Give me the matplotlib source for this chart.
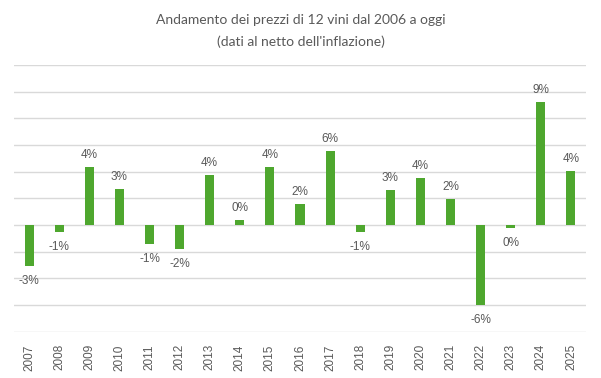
import matplotlib
matplotlib.use('Agg')
import matplotlib.pyplot as plt

# values (percent, net of inflation)
years = ["2007", "2008", "2009", "2010", "2011", "2012", "2013", "2014", "2015", "2016",
         "2017", "2018", "2019", "2020", "2021", "2022", "2023", "2024", "2025"]
values = [-3.05, -0.55, 4.34, 2.7, -1.45, -1.8, 3.75, 0.37, 4.34, 1.57,
          5.54, -0.55, 2.62, 3.52, 1.95, -5.99, -0.2, 9.24, 4.04]
labels = ["-3%", "-1%", "4%", "3%", "-1%", "-2%", "4%", "0%", "4%", "2%",
          "6%", "-1%", "3%", "4%", "2%", "-6%", "0%", "9%", "4%"]

txt = "#595959"
plt.rcParams['font.family'] = ['Liberation Sans', 'DejaVu Sans']

fig = plt.figure(figsize=(6.01, 3.78), dpi=100)
ax = fig.add_axes([14 / 601, 46.3 / 378, 572 / 601, 266.7 / 378])

x = list(range(len(years)))
ax.bar(x, values, width=0.3, color="#4ea72e", zorder=3)

for i, (v, lab) in enumerate(zip(values, labels)):
    if v >= 0:
        ax.annotate(lab, (i, v), xytext=(0, 4.5), textcoords="offset points",
                    ha="center", va="bottom", fontsize=8.5, color=txt)
    else:
        ax.annotate(lab, (i, v), xytext=(0, -6.5), textcoords="offset points",
                    ha="center", va="top", fontsize=8.5, color=txt)

ax.set_xlim(-0.5, len(years) - 0.5)
ax.set_ylim(-8, 12)
ax.set_yticks(range(-8, 13, 2))
ax.yaxis.grid(True, color="#d9d9d9", linewidth=1, zorder=0)
ax.tick_params(axis="y", left=False, labelleft=False)
ax.set_xticks(x)
ax.set_xticklabels(years, rotation=90, fontsize=8.5, color=txt)
ax.tick_params(axis="x", length=0, pad=9)
for s in ax.spines.values():
    s.set_visible(False)

tfont = ['Lato', 'DejaVu Sans']
fig.text(0.5, 1 - 20.5 / 378, "Andamento dei prezzi di 12 vini dal 2006 a oggi",
         ha="center", va="center", fontsize=10, color=txt, family=tfont)
fig.text(0.5, 1 - 41.5 / 378, "(dati al netto dell'inflazione)",
         ha="center", va="center", fontsize=10, color=txt, family=tfont)

fig.savefig("out.png", dpi=100)
